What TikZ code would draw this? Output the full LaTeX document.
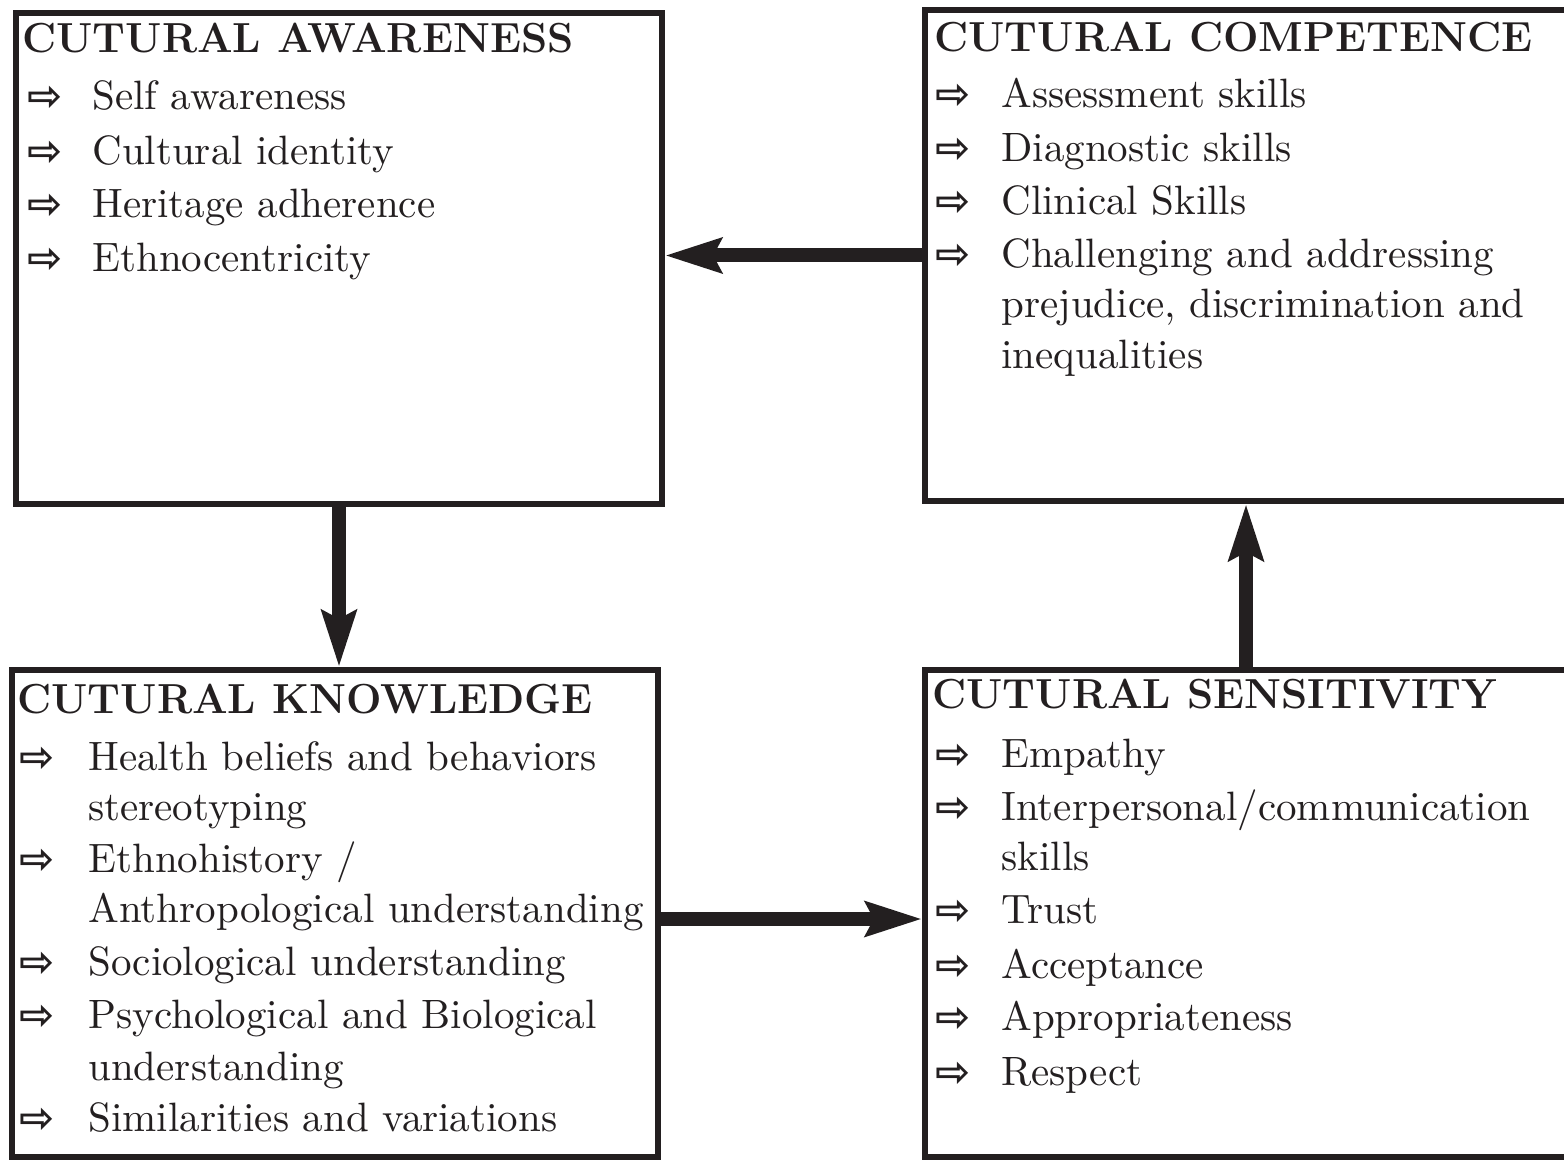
\documentclass[tikz,border=0pt]{standalone}
\usepackage{fontspec}
\newfontfamily\symfont{DejaVu Sans}
\newfontfamily\bodyfont{lmroman10-regular.otf}
\usetikzlibrary{arrows.meta}
\definecolor{ink}{HTML}{231F20}
\begin{document}
\begin{tikzpicture}[x=0.5pt,y=-0.5pt,
  box/.style={draw=ink, line width=3pt, inner sep=0pt},
  head/.style={anchor=base west, inner sep=0pt, text=ink, font=\fontsize{21}{24}\selectfont\bfseries},
  item/.style={anchor=base west, inner sep=0pt, text=ink, font=\bodyfont\fontsize{20.5}{24}\selectfont},
  bul/.style={anchor=base west, inner sep=0pt, text=ink, font=\symfont\bfseries\fontsize{21}{22}\selectfont},
  link/.style={draw=ink, line width=7pt, -{Stealth[length=28pt,width=17pt,inset=4pt]}}
]
\useasboundingbox (0,0) rectangle (1564,1160);
\fill[white] (0,0) rectangle (1564,1160);
\clip (0,0) rectangle (1564,1160);

% boxes
\node[box, minimum width=323pt, minimum height=245.5pt] (aw) at (339,258.5) {};
\node[box, minimum width=321pt, minimum height=245.5pt] (co) at (1246,255.5) {};
\node[box, minimum width=323pt, minimum height=243.5pt] (kn) at (335,913.5) {};
\node[box, minimum width=321pt, minimum height=243.5pt] (se) at (1246,913.5) {};

% Cultural awareness
\node[head] (awh) at (22,53) {CUTURAL AWARENESS};
\node[bul] (awb1) at (27,111) {⇨};
\node[item] (awt1) at (92,110) {Self awareness};
\node[bul] (awb2) at (27,166) {⇨};
\node[item] (awt2) at (92,165) {Cultural identity};
\node[bul] (awb3) at (27,219) {⇨};
\node[item] (awt3) at (92,218) {Heritage adherence};
\node[bul] (awb4) at (27,273) {⇨};
\node[item] (awt4) at (92,272) {Ethnocentricity};

% Cultural competence
\node[head] (coh) at (934,52) {CUTURAL COMPETENCE};
\node[bul] (cob1) at (935,109) {⇨};
\node[item] (cot1) at (1001,108) {Assessment skills};
\node[bul] (cob2) at (935,163) {⇨};
\node[item] (cot2) at (1001,162) {Diagnostic skills};
\node[bul] (cob3) at (935,216) {⇨};
\node[item] (cot3) at (1001,215) {Clinical Skills};
\node[bul] (cob4) at (935,269) {⇨};
\node[item] (cot4) at (1001,268) {Challenging and addressing};
\node[item] (cot5) at (1001,318) {prejudice, discrimination and};
\node[item] (cot6) at (1001,369) {inequalities};

% Cultural knowledge
\node[head] (knh) at (17,713) {CUTURAL KNOWLEDGE};
\node[bul] (knb1) at (19,771) {⇨};
\node[item] (knt1) at (88,770) {Health beliefs and behaviors};
\node[item] (knt2) at (88,820) {stereotyping};
\node[bul] (knb3) at (19,873) {⇨};
\node[item] (knt3) at (88,872) {Ethnohistory /};
\node[item] (knt4) at (88,922) {Anthropological understanding};
\node[bul] (knb5) at (19,976) {⇨};
\node[item] (knt5) at (88,975) {Sociological understanding};
\node[bul] (knb6) at (19,1029) {⇨};
\node[item] (knt6) at (88,1028) {Psychological and Biological};
\node[item] (knt7) at (88,1080) {understanding};
\node[bul] (knb8) at (19,1132) {⇨};
\node[item] (knt8) at (88,1131) {Similarities and variations};

% Cultural sensitivity
\node[head] (seh) at (932,708) {CUTURAL SENSITIVITY};
\node[bul] (seb1) at (935,768) {⇨};
\node[item] (set1) at (1001,767) {Empathy};
\node[bul] (seb2) at (935,821) {⇨};
\node[item] (set2) at (1001,820) {Interpersonal/communication};
\node[item] (set3) at (1001,870) {skills};
\node[bul] (seb4) at (935,924) {⇨};
\node[item] (set4) at (1001,923) {Trust};
\node[bul] (seb5) at (935,979) {⇨};
\node[item] (set5) at (1001,978) {Acceptance};
\node[bul] (seb6) at (935,1031) {⇨};
\node[item] (set6) at (1001,1030) {Appropriateness};
\node[bul] (seb7) at (935,1086) {⇨};
\node[item] (set7) at (1001,1085) {Respect};

% connectors
\draw[link] (co.west) -- (co.west -| aw.east);
\draw[link] (aw.south) -- (aw.south |- kn.north);
\draw[link] ([yshift=-2.75pt]kn.east) -- ([yshift=-2.75pt]kn.east -| se.west);
\draw[link] (se.north) -- (se.north |- co.south);
\end{tikzpicture}
\end{document}
